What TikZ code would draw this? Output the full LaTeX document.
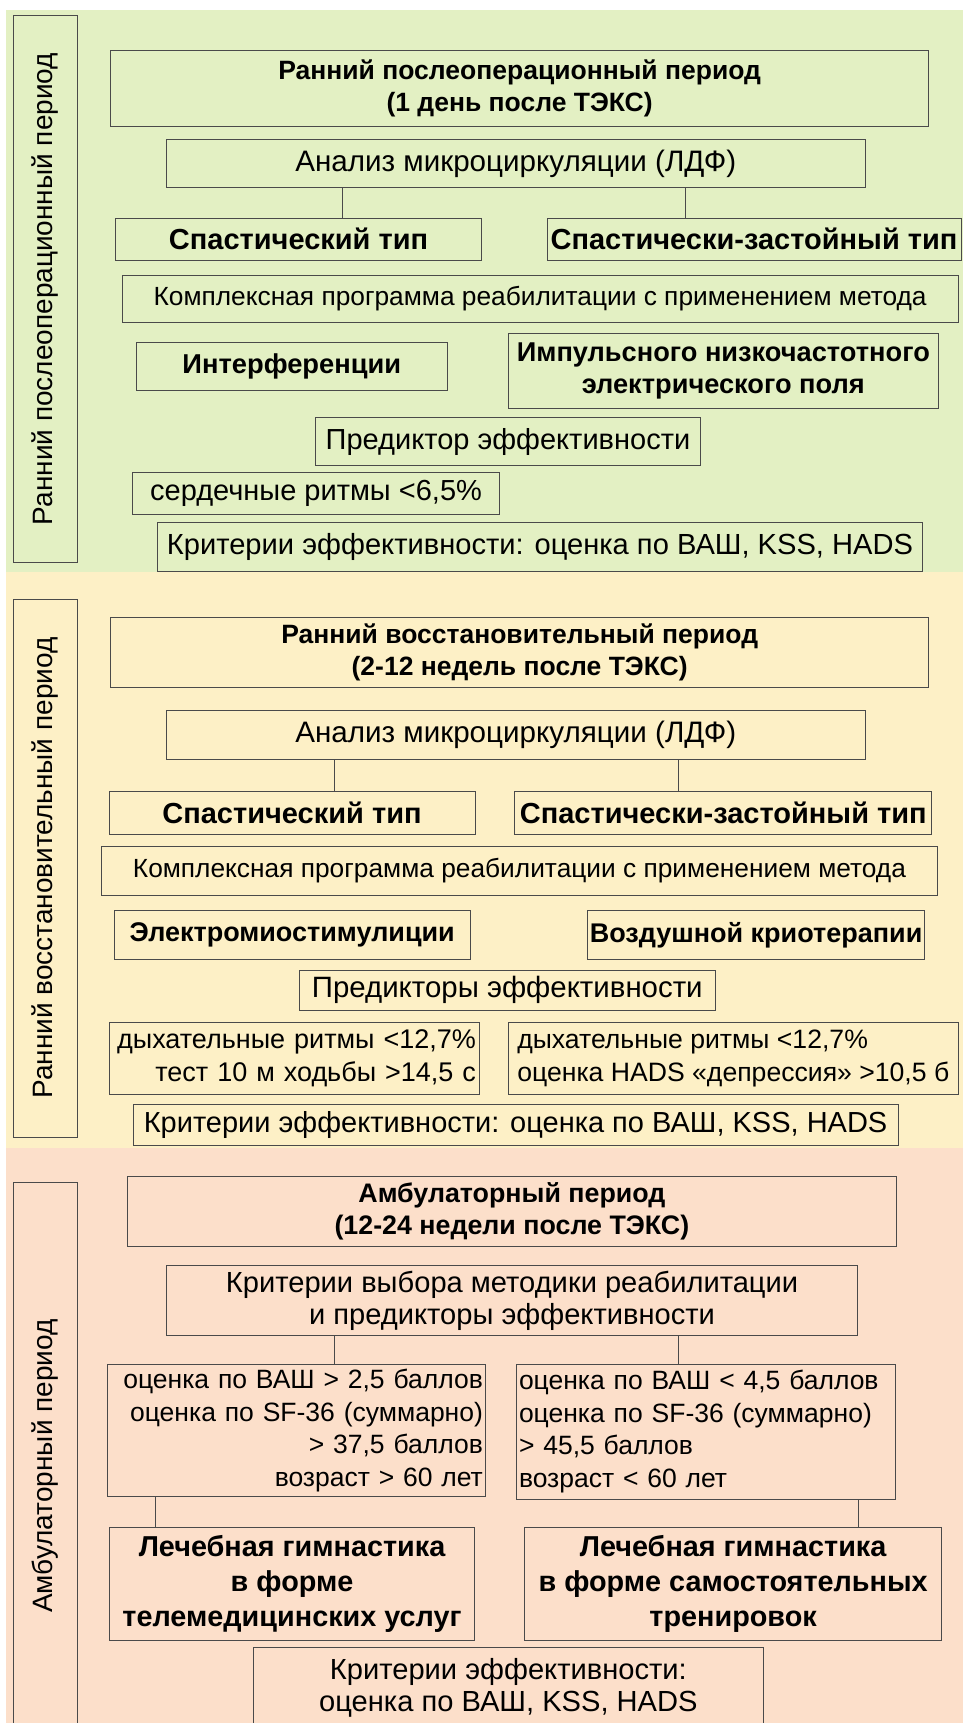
\documentclass[tikz,border=0pt]{standalone}
\usepackage{fontspec}
\setmainfont{Liberation Sans}
\newcommand\fsz[2][32]{\fontsize{#2}{#1}\selectfont}
\definecolor{bandgreen}{HTML}{E3F0C3}
\definecolor{bandyellow}{HTML}{FDF0C6}
\definecolor{bandpink}{HTML}{FCDFCA}
\definecolor{edge}{HTML}{4A4A4A}
\newcommand\mybox[7]{%
  \pgfmathsetmacro\bxcx{(#3+#5)/2}%
  \pgfmathsetmacro\bxcy{(#4+#6)/2}%
  \pgfmathsetmacro\bxw{#5-#3}%
  \pgfmathsetmacro\bxh{#6-#4}%
  \pgfmathsetmacro\bxtw{#5-#3-6}%
  \node[#2, minimum width=\bxw pt, minimum height=\bxh pt] (#1) at (\bxcx,\bxcy) {#7};}
\tikzset{
  bx/.style={draw=edge, line width=1pt, inner sep=1pt, align=center, font={\fsz{#1}}},
  bx/.default=28,
  bb/.style={bx, font={\fsz{#1}\bfseries}},
  bb/.default=28,
  bbw/.style={bx, font={\fsz[35]{#1}\bfseries}},
  rbx/.style={bx, font={\fsz[32.5]{#1}}, inner xsep=3pt, text width=\bxtw pt, align=right},
  lbx/.style={bx, font={\fsz[32.5]{#1}}, inner xsep=3pt, text width=\bxtw pt, align=left},
  lbxn/.style={bx, font={\fsz[32.5]{#1}}, align=left},
  side/.style={draw=edge, line width=1pt, rotate=90, font={\fsz{28}}, inner sep=0pt},
  ln/.style={draw=edge, line width=0.9pt}
}
\begin{document}
\begin{tikzpicture}[x=1pt,y=-1pt]
\useasboundingbox (0,0) rectangle (963,1723);
\clip (0,0) rectangle (963,1723);
\fill[white] (0,0) rectangle (963,1723);
\fill[bandgreen] (6,10) rectangle (963,572);
\fill[bandyellow] (6,572) rectangle (963,1148);
\fill[bandpink] (6,1148) rectangle (963,1723);

% side labels
\node[side, minimum width=546pt, minimum height=63.5pt] (sideA) at (45.25,289) {Ранний послеоперационный период};
\node[side, minimum width=538pt, minimum height=63.5pt] (sideB) at (45.25,868) {Ранний восстановительный период};
\node[side, minimum width=568pt, minimum height=63.5pt] (sideC) at (45.25,1466) {Амбулаторный период};

% ---------- green ----------
\mybox{t1}{bb=26.5}{110.6}{51}{928.7}{126.7}{Ранний послеоперационный период\\(1 день после ТЭКС)}
\mybox{a1}{bx=29.6}{166.5}{140}{865}{188}{Анализ микроциркуляции (ЛДФ)}
\mybox{s1}{bb=29}{115.5}{218}{481.6}{260}{Спастический тип}
\mybox{z1}{bb=29}{547}{218}{961}{260}{Спастически-застойный тип}
\mybox{k1}{bx=26.3}{122}{275}{958}{322.3}{Комплексная программа реабилитации с применением метода}
\mybox{m1}{bb=27.3}{136.4}{342.3}{447.2}{390.7}{Интерференции}
\mybox{m2}{bb=27.2}{508.6}{333.3}{938}{408.3}{Импульсного низкочастотного\\электрического поля}
\mybox{p1}{bx=29}{315}{417.3}{700.9}{465.7}{Предиктор эффективности}
\mybox{r1}{bx=29}{132.7}{472.7}{499.4}{514.3}{сердечные ритмы <6,5\%}
\mybox{c1}{bx=29.1}{157.2}{522.7}{922.6}{571.7}{Критерии эффективности: оценка по ВАШ, KSS, HADS}
\coordinate (xa1) at (342.8,0);
\coordinate (xa2) at (685,0);
\draw[ln] (a1.south -| xa1) -- (s1.north -| xa1);
\draw[ln] (a1.south -| xa2) -- (z1.north -| xa2);

% ---------- yellow ----------
\mybox{t2}{bb=26.5}{110.6}{617.7}{928.7}{687.7}{Ранний восстановительный период\\(2-12 недель после ТЭКС)}
\mybox{a2}{bx=29.6}{166.5}{710.7}{865}{759}{Анализ микроциркуляции (ЛДФ)}
\mybox{s2}{bb=29}{109}{791.7}{475}{834.3}{Спастический тип}
\mybox{z2}{bb=29}{514.7}{791.7}{931.8}{834.3}{Спастически-застойный тип}
\mybox{k2}{bx=26.3}{101.4}{846.7}{937.3}{895}{Комплексная программа реабилитации с применением метода}
\mybox{e2}{bb=27}{114}{910.7}{470.5}{959}{Электромиостимулиции}
\mybox{v2}{bb=27}{587.8}{910.7}{924.4}{959}{Воздушной криотерапии}
\mybox{p2}{bx=29.4}{299}{970}{715.6}{1010.7}{Предикторы эффективности}
\mybox{q2l}{rbx=27}{109}{1022.7}{479}{1094}{дыхательные ритмы <12,7\%\\тест 10 м ходьбы >14,5 с}
\mybox{q2r}{lbxn=26.6}{508.6}{1022.7}{958}{1094}{дыхательные ритмы <12,7\%\\оценка HADS «депрессия» >10,5 б}
\mybox{c2}{bx=29}{133}{1104}{898}{1145}{Критерии эффективности: оценка по ВАШ, KSS, HADS}
\coordinate (xb1) at (334.8,0);
\coordinate (xb2) at (678.7,0);
\draw[ln] (a2.south -| xb1) -- (s2.north -| xb1);
\draw[ln] (a2.south -| xb2) -- (z2.north -| xb2);

% ---------- pink ----------
\mybox{t3}{bb=26.8}{127}{1176}{896.8}{1246.7}{Амбулаторный период\\(12-24 недели после ТЭКС)}
\mybox{a3}{bx=29.1}{166.5}{1265}{857.5}{1335.7}{Критерии выбора методики реабилитации\\и предикторы эффективности}
\mybox{q3l}{rbx=26.5}{107.5}{1364}{485.9}{1496.7}{оценка по ВАШ > 2,5 баллов\\оценка по SF-36 (суммарно)\\> 37,5 баллов\\возраст > 60 лет}
\mybox{q3r}{lbx=26.5}{516}{1364}{895}{1499}{оценка по ВАШ < 4,5 баллов\\оценка по SF-36 (суммарно)\\> 45,5 баллов\\возраст < 60 лет}
\mybox{g3l}{bbw=28.8}{109.3}{1527}{474.8}{1640}{Лечебная гимнастика\\в форме\\телемедицинских услуг}
\mybox{g3r}{bbw=28.8}{524.6}{1527}{941.6}{1640}{Лечебная гимнастика\\в форме самостоятельных\\тренировок}
\mybox{c3}{bx=29.1}{253.7}{1647.3}{763}{1729}{Критерии эффективности:\\оценка по ВАШ, KSS, HADS}
\draw[ln] (a3.south -| xb1) -- (q3l.north -| xb1);
\draw[ln] (a3.south -| xb2) -- (q3r.north -| xb2);
\coordinate (xc1) at (155.4,0);
\coordinate (xc2) at (858.7,0);
\draw[ln] (q3l.south -| xc1) -- (g3l.north -| xc1);
\draw[ln] (q3r.south -| xc2) -- (g3r.north -| xc2);
\end{tikzpicture}
\end{document}
